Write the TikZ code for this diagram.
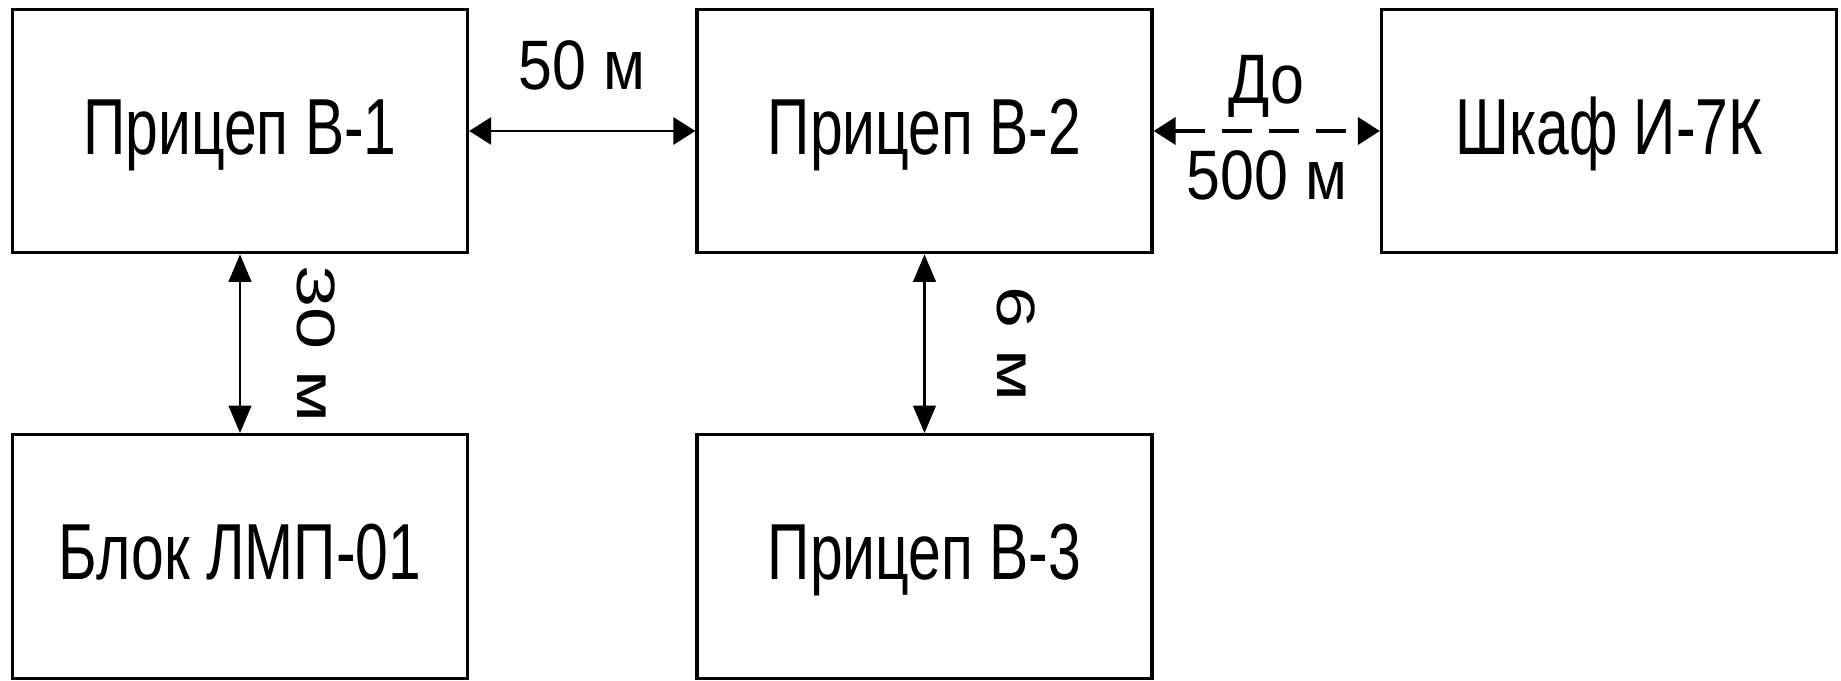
\documentclass[tikz,border=0pt]{standalone}
\usepackage{fontspec}
\setmainfont{Liberation Sans}
\newfontfamily\boxfont{Liberation Sans}[FakeStretch=0.74]
\newfontfamily\distfont{Liberation Sans}[FakeStretch=0.87]
\newfontfamily\vdistfont{Liberation Sans}[FakeStretch=1.4]
\usepackage{tikz}
\usetikzlibrary{arrows.meta,positioning}

\begin{document}
\begin{tikzpicture}[
    block/.style={draw, line width=1.3pt, minimum width=182pt, minimum height=97.4pt, inner sep=0pt, text height=26.7pt, text depth=8pt, font=\boxfont\fontsize{31.8}{35}\selectfont},
    hlink/.style={{Triangle[length=8.8pt,width=10.8pt]}-{Triangle[length=8.8pt,width=10.8pt]}, line width=1.1pt},
    vlink/.style={{Triangle[length=11pt,width=9pt]}-{Triangle[length=11pt,width=9pt]}, line width=1.1pt},
    dist/.style={font=\distfont\fontsize{28}{32}\selectfont, inner sep=0pt},
    vdist/.style={font=\vdistfont\fontsize{21.6}{25}\selectfont, inner sep=0pt, rotate=-90, anchor=south}
]
        \useasboundingbox (0,0) rectangle (736.4pt,272.4pt);
        \node[block] (trailerone) at (96pt,220pt) {Прицеп В-1};
        \node[block, right=90.5pt of trailerone] (trailertwo) {Прицеп В-2};
        \node[block, right=90.5pt of trailertwo] (cabinet) {Шкаф И-7К};
        \node[block, below=71.5pt of trailerone] (lmpunit) {Блок ЛМП-01};
        \node[block, below=71.5pt of trailertwo] (trailerthree) {Прицеп В-3};
        % links between the units
        \draw[hlink] (trailerone.east) -- node[dist, above=15.6pt] (fiftym) {50 м} (trailertwo.west);
        \draw[hlink, line width=1.6pt, dash pattern=on 12pt off 6.8pt] (trailertwo.east) -- node[dist, above=4.8pt] (upto) {До} node[dist, below=7.2pt] (fivehundredm) {500 м} (cabinet.west);
        \draw[vlink] (trailerone.south) -- coordinate (leftmid) (lmpunit.north);
        \draw[vlink] (trailertwo.south) -- coordinate (rightmid) (trailerthree.north);
        \node[vdist] (thirtym) at ([xshift=22.4pt]leftmid) {30 м};
        \node[vdist] (sixm) at ([xshift=28.8pt]rightmid) {6 м};
    \end{tikzpicture}
\end{document}
